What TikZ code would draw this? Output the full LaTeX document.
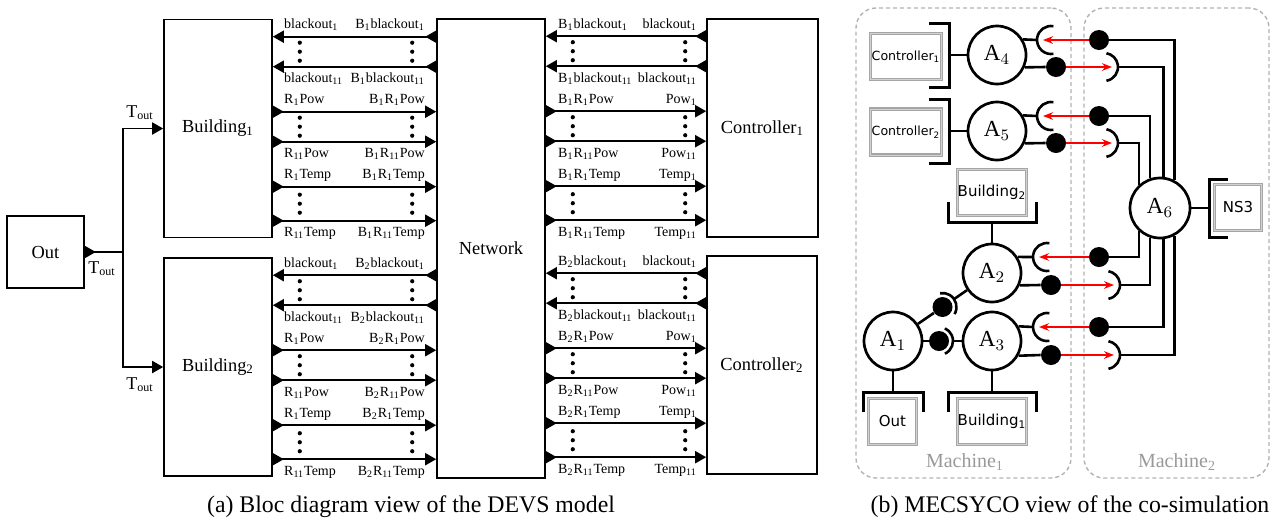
\documentclass[tikz,border=0pt]{standalone}
\usepackage{fontspec}
\setmainfont{Liberation Serif}
\newfontfamily\dvs{DejaVu Sans}
\usetikzlibrary{arrows.meta,calc}
\newcommand\sbs[1]{\textsubscript{#1}}
\newcommand\mysock[3]{\draw[sockst] ($(#1)+(#2:7pt)$) arc[start angle=#2, end angle=#3, radius=7pt];}
\begin{document}
\begin{tikzpicture}[x=0.5pt,y=-0.5pt,
  blk/.style={draw, line width=0.8pt, minimum width=54pt, minimum height=109pt, inner sep=0pt, font=\fontsize{9.2}{11}\selectfont},
  flow/.style={line width=0.9pt, {Triangle[reversed,length=5.5pt,width=6pt]}-{Triangle[length=5.5pt,width=6pt]}},
  lab/.style={font=\fontsize{7}{8}\selectfont, inner sep=0pt},
  tlab/.style={font=\fontsize{9}{11}\selectfont, inner sep=0pt},
  actor/.style={circle, draw, line width=1.35pt, minimum size=29pt, inner sep=0pt, font=\fontsize{11.5}{13}\selectfont},
  model/.style={draw=gray!70, double=gray!35, double distance=0.5pt, line width=0.65pt, inner sep=0pt, minimum height=23pt, font=\dvs\fontsize{7.5}{9}\selectfont},
  brk/.style={line width=1.5pt},
  cpl/.style={line width=1.3pt},
  ball/.style={circle, fill, inner sep=0pt, minimum size=10pt},
  sockst/.style={line width=1.3pt},
  redarr/.style={red, line width=0.75pt, -{Stealth[length=5pt,width=3.8pt]}},
  machine/.style={draw=gray!60, dash pattern=on 2pt off 1.5pt, line width=0.7pt, rounded corners=10pt, inner sep=0pt},
  mlab/.style={text=gray!80, font=\fontsize{10}{12}\selectfont, inner sep=0pt}
]
\useasboundingbox (0,0) rectangle (1274,526);

% ---------- Left panel ----------
\node[blk, minimum width=38.5pt, minimum height=36pt] (Out) at (45.5,252) {Out};
\node[blk] (B1) at (218,128.5) {Building\sbs{1}};
\node[blk] (B2) at (218,367) {Building\sbs{2}};
\node[blk, minimum height=229.5pt] (Nw) at (491,248.5) {Network};
\node[blk, minimum width=55.5pt] (C1) at (762.5,128) {Controller\sbs{1}};
\node[blk, minimum width=55pt] (C2) at (762,365) {Controller\sbs{2}};

\coordinate (split) at (123,252);
\draw[line width=0.9pt, {Triangle[reversed,length=5.5pt,width=6pt]}-] (Out.east) -- (split);
\draw[line width=0.9pt, -{Triangle[length=5.5pt,width=6pt]}] (split) |- (B1.west);
\draw[line width=0.9pt, -{Triangle[length=5.5pt,width=6pt]}] (split) |- (B2.west);
\node[tlab] (t1) at (140,113) {T\sbs{out}};
\node[tlab] (t2) at (102,269) {T\sbs{out}};
\node[tlab] (t3) at (140,385) {T\sbs{out}};

\foreach \i in {1,2}{
  \foreach \o in {18,48}{
    \coordinate (t) at ($(B\i.north east)+(0,\o)$);
    \draw[flow] (Nw.west |- t) -- (t);
    \coordinate (u) at ($(C\i.north west)+(0,\o)$);
    \draw[flow] (u) -- (Nw.east |- u);
  }
  \foreach \o in {93,123,168,202}{
    \coordinate (t) at ($(B\i.north east)+(0,\o)$);
    \draw[flow] (t) -- (Nw.west |- t);
    \coordinate (u) at ($(C\i.north west)+(0,\o)$);
    \draw[flow] (Nw.east |- u) -- (u);
  }
  \foreach \m in {33,108,185}{
    \foreach \k in {-9,0,9}{
      \fill ($(B\i.north east)+(27,\m+\k)$) circle[radius=1.05pt];
      \fill ($(B\i.north east -| Nw.west)+(-24,\m+\k)$) circle[radius=1.05pt];
      \fill ($(C\i.north west -| Nw.east)+(27,\m+\k)$) circle[radius=1.05pt];
      \fill ($(C\i.north west)+(-21,\m+\k)$) circle[radius=1.05pt];
    }
  }
  \foreach \o/\p/\la/\lb/\lc/\ld in {
    18/-8/{blackout\sbs{1}}/{B\sbs{\i}blackout\sbs{1}}/{B\sbs{\i}blackout\sbs{1}}/{blackout\sbs{1}},
    48/16/{blackout\sbs{11}}/{B\sbs{\i}blackout\sbs{11}}/{B\sbs{\i}blackout\sbs{11}}/{blackout\sbs{11}},
    93/-8/{R\sbs{1}Pow}/{B\sbs{\i}R\sbs{1}Pow}/{B\sbs{\i}R\sbs{1}Pow}/{Pow\sbs{1}},
    123/16/{R\sbs{11}Pow}/{B\sbs{\i}R\sbs{11}Pow}/{B\sbs{\i}R\sbs{11}Pow}/{Pow\sbs{11}},
    168/-8/{R\sbs{1}Temp}/{B\sbs{\i}R\sbs{1}Temp}/{B\sbs{\i}R\sbs{1}Temp}/{Temp\sbs{1}},
    202/16/{R\sbs{11}Temp}/{B\sbs{\i}R\sbs{11}Temp}/{B\sbs{\i}R\sbs{11}Temp}/{Temp\sbs{11}}}{
    \node[lab, anchor=base west] (la\i-\o) at ($(B\i.north east)+(11,\o+\p)$) {\la};
    \node[lab, anchor=base east] (lb\i-\o) at ($(B\i.north east -| Nw.west)+(-11,\o+\p)$) {\lb};
    \node[lab, anchor=base west] (lc\i-\o) at ($(C\i.north west -| Nw.east)+(12,\o+\p)$) {\lc};
    \node[lab, anchor=base east] (ld\i-\o) at ($(C\i.north west)+(-9,\o+\p)$) {\ld};
  }
}
\node[font=\fontsize{11.9}{14}\selectfont, inner sep=0pt] (capa) at (411,507) {(a) Bloc diagram view of the DEVS model};

% ---------- Right panel ----------
\node[machine, minimum width=107.5pt, minimum height=235pt] (M1) at (963.5,243) {};
\node[machine, minimum width=92.5pt, minimum height=235pt] (M2) at (1176.5,243) {};
\node[mlab] (m1l) at (965,462) {Machine\sbs{1}};
\node[mlab] (m2l) at (1177,462) {Machine\sbs{2}};

\node[model, minimum width=35.5pt] (C1m) at (906,56.5) {\fontsize{6.3}{8}\selectfont Controller\sbs{1}};
\node[model, minimum width=35.5pt] (C2m) at (906,132) {\fontsize{6.3}{8}\selectfont Controller\sbs{2}};
\node[model, minimum width=34.5pt] (B2m) at (992,192.5) {Building\sbs{2}};
\node[model, minimum width=23.5pt] (NS3m) at (1238,207.5) {NS3};
\node[model, minimum width=24pt] (Outm) at (892.5,421.5) {Out};
\node[model, minimum width=34.5pt] (B1m) at (992,421.5) {Building\sbs{1}};

\node[actor] (A4) at (997,55) {$\mathrm{A}_4$};
\node[actor] (A5) at (997,131) {$\mathrm{A}_5$};
\node[actor, minimum size=30pt] (A6) at (1160,208) {$\mathrm{A}_6$};
\node[actor] (A2) at (992,273) {$\mathrm{A}_2$};
\node[actor] (A1) at (893,341) {$\mathrm{A}_1$};
\node[actor] (A3) at (992,341) {$\mathrm{A}_3$};

% brackets
\coordinate (C1b) at (949,55);
\draw[brk] ($(C1b)+(-20,-32)$) -- ($(C1b)+(0,-32)$) -- ($(C1b)+(0,32)$) -- ($(C1b)+(-20,32)$);
\draw[cpl] (C1b) -- (A4);
\coordinate (C2b) at (949,131);
\draw[brk] ($(C2b)+(-20,-32)$) -- ($(C2b)+(0,-32)$) -- ($(C2b)+(0,32)$) -- ($(C2b)+(-20,32)$);
\draw[cpl] (C2b) -- (A5);
\coordinate (B2b) at (992,222);
\draw[brk] ($(B2b)+(-44,-20)$) -- ($(B2b)+(-44,0)$) -- ($(B2b)+(44,0)$) -- ($(B2b)+(44,-20)$);
\draw[cpl] (B2b) -- (A2);
\coordinate (NSb) at (1209,208);
\draw[brk] ($(NSb)+(19,-29)$) -- ($(NSb)+(0,-29)$) -- ($(NSb)+(0,29)$) -- ($(NSb)+(19,29)$);
\draw[cpl] (A6) -- (NSb);
\coordinate (Outb) at (893,392);
\draw[brk] ($(Outb)+(-30,20)$) -- ($(Outb)+(-30,0)$) -- ($(Outb)+(30,0)$) -- ($(Outb)+(30,20)$);
\draw[cpl] (A1) -- (Outb);
\coordinate (B1b) at (992,392);
\draw[brk] ($(B1b)+(-44,20)$) -- ($(B1b)+(-44,0)$) -- ($(B1b)+(44,0)$) -- ($(B1b)+(44,20)$);
\draw[cpl] (A3) -- (B1b);

% A4 couplings
\coordinate (s4u) at (1051,40);
\node[ball] (b4u) at (1099,40) {};
\draw[cpl] (A4.31) -- ($(s4u)+(-7pt,0)$);
\mysock{s4u}{80}{280}
\draw[redarr] (b4u.west) -- ($(s4u)+(-4pt,0)$);
\draw[cpl] (b4u.east) -| (A6.62);
\node[ball] (b4d) at (1056,67) {};
\coordinate (s4d) at (1104,67);
\draw[cpl] (A4.-24) -- (b4d.west);
\mysock{s4d}{-80}{80}
\draw[redarr] (b4d.east) -- ($(s4d)+(4pt,0)$);
\draw[cpl] ($(s4d)+(7pt,0)$) -| (A6.84);

% A5 couplings
\coordinate (s5u) at (1051,116);
\node[ball] (b5u) at (1099,116) {};
\draw[cpl] (A5.31) -- ($(s5u)+(-7pt,0)$);
\mysock{s5u}{80}{280}
\draw[redarr] (b5u.west) -- ($(s5u)+(-4pt,0)$);
\draw[cpl] (b5u.east) -| (A6.109.5);
\node[ball] (b5d) at (1056,143) {};
\coordinate (s5d) at (1104,143);
\draw[cpl] (A5.-24) -- (b5d.west);
\mysock{s5d}{-80}{80}
\draw[redarr] (b5d.east) -- ($(s5d)+(4pt,0)$);
\draw[cpl] ($(s5d)+(7pt,0)$) -| (A6.132);

% A2 couplings
\coordinate (s2u) at (1047,257);
\node[ball] (b2u) at (1099,257) {};
\draw[cpl] (A2.32) -- ($(s2u)+(-7pt,0)$);
\mysock{s2u}{80}{280}
\draw[redarr] (b2u.west) -- ($(s2u)+(-4pt,0)$);
\draw[cpl] (b2u.east) -| (A6.-132);
\node[ball] (b2d) at (1051,285) {};
\coordinate (s2d) at (1106,285);
\draw[cpl] (A2.-24) -- (b2d.west);
\mysock{s2d}{-80}{80}
\draw[redarr] (b2d.east) -- ($(s2d)+(4pt,0)$);
\draw[cpl] ($(s2d)+(7pt,0)$) -| (A6.-109.5);

% A3 couplings
\coordinate (s3u) at (1047,327);
\node[ball] (b3u) at (1099,327) {};
\draw[cpl] (A3.29) -- ($(s3u)+(-7pt,0)$);
\mysock{s3u}{80}{280}
\draw[redarr] (b3u.west) -- ($(s3u)+(-4pt,0)$);
\draw[cpl] (b3u.east) -| (A6.-84);
\node[ball] (b3d) at (1051,355) {};
\coordinate (s3d) at (1106,355);
\draw[cpl] (A3.-29) -- (b3d.west);
\mysock{s3d}{-80}{80}
\draw[redarr] (b3d.east) -- ($(s3d)+(4pt,0)$);
\draw[cpl] ($(s3d)+(7pt,0)$) -| (A6.-62);

% A1 internal couplings
\node[ball] (b13) at (939,341) {};
\draw[cpl] (A1.east) -- (b13.west);
\mysock{b13}{-65}{65}
\draw[cpl] ($(b13)+(7pt,0)$) -- (A3.west);
\node[ball] (b12) at ($(A1)!0.5!(A2)$) {};
\draw[cpl] (A1) -- (b12);
\mysock{b12}{-30.5}{99.5}
\draw[cpl] ($(b12)+(34.5:7pt)$) -- (A2);

\node[font=\fontsize{11.9}{14}\selectfont, inner sep=0pt] (capb) at (1070,507) {(b) MECSYCO view of the co-simulation};
\end{tikzpicture}
\end{document}
